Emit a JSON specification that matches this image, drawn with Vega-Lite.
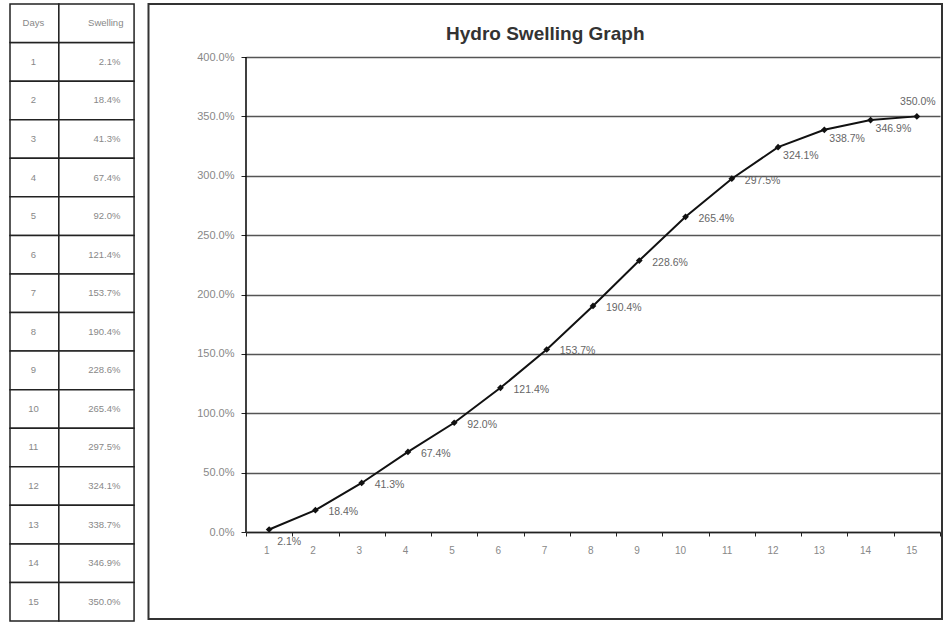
{
  "$schema": "https://vega.github.io/schema/vega-lite/v6.json",
  "padding": {"left": 9, "top": 3, "right": 0, "bottom": 0},
  "background": "white",
  "spacing": 10,
  "config": {"view": {"stroke": null}, "font": "Liberation Sans"},
  "datasets": {
    "swell": [
      {"day": 1, "swelling": 0.021},
      {"day": 2, "swelling": 0.184},
      {"day": 3, "swelling": 0.413},
      {"day": 4, "swelling": 0.674},
      {"day": 5, "swelling": 0.920},
      {"day": 6, "swelling": 1.214},
      {"day": 7, "swelling": 1.537},
      {"day": 8, "swelling": 1.904},
      {"day": 9, "swelling": 2.286},
      {"day": 10, "swelling": 2.654},
      {"day": 11, "swelling": 2.975},
      {"day": 12, "swelling": 3.241},
      {"day": 13, "swelling": 3.387},
      {"day": 14, "swelling": 3.469},
      {"day": 15, "swelling": 3.500}
    ]
  },
  "hconcat": [
    {
      "width": 127,
      "height": 617,
      "data": {"name": "swell"},
      "layer": [
        {
          "mark": {"type": "rect", "fill": "white", "stroke": "#222", "strokeWidth": 1.5},
          "encoding": {
            "x": {"datum": 0, "type": "quantitative", "scale": {"domain": [0, 127]}, "axis": null},
            "x2": {"datum": 50},
            "y": {"field": "day", "type": "ordinal", "scale": {"domain": [0,1,2,3,4,5,6,7,8,9,10,11,12,13,14,15], "paddingInner": 0, "paddingOuter": 0}, "axis": null}
          }
        },
        {
          "mark": {"type": "rect", "fill": "white", "stroke": "#222", "strokeWidth": 1.5},
          "encoding": {
            "x": {"datum": 50, "type": "quantitative"},
            "x2": {"datum": 127},
            "y": {"field": "day", "type": "ordinal"}
          }
        },
        {
          "data": {"values": [{"h": "header"}]},
          "mark": {"type": "rect", "fill": "white", "stroke": "#222", "strokeWidth": 1.5},
          "encoding": {
            "x": {"datum": 0, "type": "quantitative"},
            "x2": {"datum": 50},
            "y": {"datum": 0, "type": "ordinal"}
          }
        },
        {
          "data": {"values": [{"h": "header"}]},
          "mark": {"type": "rect", "fill": "white", "stroke": "#222", "strokeWidth": 1.5},
          "encoding": {
            "x": {"datum": 50, "type": "quantitative"},
            "x2": {"datum": 127},
            "y": {"datum": 0, "type": "ordinal"}
          }
        },
        {
          "data": {"values": [{"h": "Days"}]},
          "mark": {"type": "text", "fontSize": 9.5, "color": "#888", "align": "center", "baseline": "middle"},
          "encoding": {
            "x": {"datum": 24, "type": "quantitative"},
            "y": {"datum": 0, "type": "ordinal"},
            "text": {"field": "h"}
          }
        },
        {
          "data": {"values": [{"h": "Swelling"}]},
          "mark": {"type": "text", "fontSize": 9.5, "color": "#888", "align": "center", "baseline": "middle"},
          "encoding": {
            "x": {"datum": 98, "type": "quantitative"},
            "y": {"datum": 0, "type": "ordinal"},
            "text": {"field": "h"}
          }
        },
        {
          "mark": {"type": "text", "fontSize": 9.5, "color": "#888", "align": "center", "baseline": "middle"},
          "encoding": {
            "x": {"datum": 24, "type": "quantitative"},
            "y": {"field": "day", "type": "ordinal"},
            "text": {"field": "day", "type": "quantitative"}
          }
        },
        {
          "mark": {"type": "text", "fontSize": 9.5, "color": "#888", "align": "right", "baseline": "middle"},
          "encoding": {
            "x": {"datum": 113, "type": "quantitative"},
            "y": {"field": "day", "type": "ordinal"},
            "text": {"field": "swelling", "type": "quantitative", "format": ".1%"}
          }
        }
      ]
    },
    {
      "width": 694,
      "height": 528,
      "title": {
        "text": "Hydro Swelling Graph",
        "fontSize": 19,
        "fontWeight": "bold",
        "color": "#333",
        "font": "Liberation Sans",
        "anchor": "middle",
        "frame": "bounds",
        "offset": -56,
        "baseline": "alphabetic"
      },
      "layer": [
        {
          "data": {"name": "swell"},
          "layer": [
            {
              "data": {"values": [{"a": "axis"}]},
              "mark": {"type": "rule", "color": "#000", "strokeWidth": 1.5},
              "encoding": {
                "x": {"datum": 1, "type": "ordinal", "bandPosition": 0},
                "y": {"datum": 0, "type": "quantitative"},
                "y2": {"datum": 4}
              }
            },
            {
              "mark": {"type": "line", "color": "#111", "strokeWidth": 2},
              "encoding": {
                "x": {
                  "field": "day", "type": "ordinal", "bandPosition": 0.5,
                  "scale": {"type": "band", "paddingInner": 0, "paddingOuter": 0},
                  "axis": {
                    "tickBand": "extent", "labelAngle": 0, "title": null, "grid": false,
                    "domainColor": "#222", "domainWidth": 1.5, "tickColor": "#222", "tickSize": 4,
                    "labelColor": "#888", "labelFontSize": 10, "labelPadding": 14
                  }
                },
                "y": {
                  "field": "swelling", "type": "quantitative",
                  "scale": {"domain": [0, 4.44632], "nice": false},
                  "axis": {
                    "format": ".1%", "values": [0, 0.5, 1, 1.5, 2, 2.5, 3, 3.5, 4], "title": null,
                    "grid": true, "gridColor": "#555", "gridWidth": 1.5,
                    "domain": false, "tickColor": "#222", "tickSize": 5,
                    "labelColor": "#888", "labelFontSize": 11, "labelPadding": 7
                  }
                }
              }
            },
            {
              "mark": {"type": "point", "shape": "diamond", "filled": true, "color": "#111", "size": 45, "opacity": 1},
              "encoding": {
                "x": {"field": "day", "type": "ordinal", "bandPosition": 0.5},
                "y": {"field": "swelling", "type": "quantitative"}
              }
            },
            {
              "transform": [{"filter": "datum.day >= 2 && datum.day <= 11"}],
              "mark": {"type": "text", "fontSize": 10.5, "color": "#666", "align": "left", "baseline": "middle", "dx": 13, "dy": 2},
              "encoding": {
                "x": {"field": "day", "type": "ordinal", "bandPosition": 0.5},
                "y": {"field": "swelling", "type": "quantitative"},
                "text": {"field": "swelling", "type": "quantitative", "format": ".1%"}
              }
            },
            {
              "transform": [{"filter": "datum.day >= 12 && datum.day <= 14"}],
              "mark": {"type": "text", "fontSize": 10.5, "color": "#666", "align": "left", "baseline": "middle", "dx": 5, "dy": 9},
              "encoding": {
                "x": {"field": "day", "type": "ordinal", "bandPosition": 0.5},
                "y": {"field": "swelling", "type": "quantitative"},
                "text": {"field": "swelling", "type": "quantitative", "format": ".1%"}
              }
            },
            {
              "transform": [{"filter": "datum.day == 1"}],
              "mark": {"type": "text", "fontSize": 10.5, "color": "#666", "align": "left", "baseline": "middle", "dx": 8, "dy": 12},
              "encoding": {
                "x": {"field": "day", "type": "ordinal", "bandPosition": 0.5},
                "y": {"field": "swelling", "type": "quantitative"},
                "text": {"field": "swelling", "type": "quantitative", "format": ".1%"}
              }
            },
            {
              "transform": [{"filter": "datum.day == 15"}],
              "mark": {"type": "text", "fontSize": 10.5, "color": "#666", "align": "center", "baseline": "middle", "dx": 1, "dy": -14},
              "encoding": {
                "x": {"field": "day", "type": "ordinal", "bandPosition": 0.5},
                "y": {"field": "swelling", "type": "quantitative"},
                "text": {"field": "swelling", "type": "quantitative", "format": ".1%"}
              }
            }
          ]
        },
        {
          "data": {"values": [{"f": "frame"}]},
          "mark": {"type": "rect", "filled": false, "stroke": "#333", "strokeWidth": 2},
          "encoding": {
            "x": {"datum": -0.14049, "type": "quantitative", "scale": {"domain": [0, 1]}, "axis": null},
            "x2": {"datum": 1.00288},
            "y": {"datum": -0.73263, "type": "quantitative"},
            "y2": {"datum": 4.44632}
          }
        }
      ],
      "resolve": {"scale": {"x": "independent"}, "axis": {"x": "independent"}}
    }
  ]
}
